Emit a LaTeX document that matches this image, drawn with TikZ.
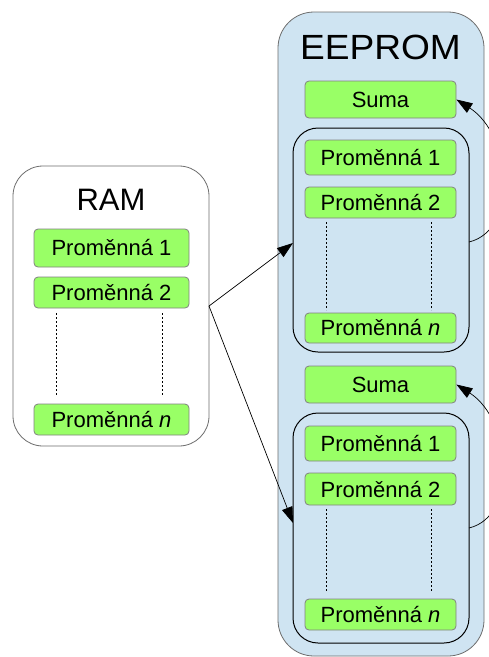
\documentclass[tikz,border=0pt]{standalone}
\usepackage{fontspec}
\setmainfont{Liberation Sans}
\usetikzlibrary{arrows.meta}
\definecolor{cellgreen}{RGB}{153,255,102}
\definecolor{celledge}{RGB}{130,130,130}
\definecolor{memblue}{RGB}{207,228,242}
\definecolor{memedge}{RGB}{110,110,110}
\tikzset{
  cell/.style={draw=celledge, fill=cellgreen, rounded corners=4pt, line width=0.8pt,
    minimum width=#1, inner sep=0pt, font=\fontsize{22}{24}\selectfont},
  cell/.default=155pt,
  memtitle/.style={font=\fontsize{#1}{#1}\selectfont, inner sep=0pt},
  gap/.style={dash pattern=on 2pt off 2pt, line width=0.7pt},
  link/.style={line width=0.7pt, -{Triangle[length=16pt,width=11pt]}}
}
\begin{document}
\begin{tikzpicture}[x=1pt, y=-1pt]
\clip (0,0) rectangle (489,657);
\fill[white] (0,0) rectangle (489,657);

% RAM block
\draw[memedge, line width=0.8pt, fill=white, rounded corners=30pt] (13,166) rectangle (209,446);
\coordinate (ram) at (209,306);
\node[memtitle=31] (ramtitle) at (111,200) {RAM};
\node[cell, minimum height=38pt] (rv1) at (111.5,248) {Proměnná 1};
\node[cell, minimum height=31pt] (rv2) at (111.5,292.5) {Proměnná 2};
\node[cell, minimum height=31pt] (rvn) at (111.5,419.5) {Proměnná \textit{n}};
\draw[gap] (56,313) -- (56,395);
\draw[gap] (162,313) -- (162,395);

% EEPROM block
\draw[memedge, line width=0.8pt, fill=memblue, rounded corners=36pt] (278,12) rectangle (484,656);
\node[memtitle=35, xscale=1.06] (eetitle) at (380.5,47) {EEPROM};

% first copy
\node[cell=151pt, minimum height=37pt] (s1) at (380.5,99.5) {Suma};
\draw[black, line width=1pt, rounded corners=25pt] (293,128) rectangle (469,352);
\coordinate (g1w) at (293,243);
\coordinate (g1e) at (469,242);
\node[cell=151pt, minimum height=35pt] (a1) at (380.5,157.5) {Proměnná 1};
\node[cell=151pt, minimum height=31pt] (a2) at (380.5,202.5) {Proměnná 2};
\node[cell=151pt, minimum height=30pt] (an) at (380.5,328) {Proměnná \textit{n}};
\draw[gap] (326,222) -- (326,310);
\draw[gap] (431,222) -- (431,310);

% second copy
\node[cell=151pt, minimum height=37pt] (s2) at (380.5,384.5) {Suma};
\draw[black, line width=1pt, rounded corners=25pt] (293,413) rectangle (469,643);
\coordinate (g2w) at (293,523);
\coordinate (g2e) at (469,528);
\node[cell=151pt, minimum height=35pt] (b1) at (380.5,443.5) {Proměnná 1};
\node[cell=151pt, minimum height=32pt] (b2) at (380.5,489) {Proměnná 2};
\node[cell=151pt, minimum height=31pt] (bn) at (380.5,614.5) {Proměnná \textit{n}};
\draw[gap] (326,509) -- (326,591);
\draw[gap] (431,509) -- (431,591);

% connectors
\draw[link] (ram) -- (g1w);
\draw[link] (ram) -- (g2w);
\draw[link] (g1e) .. controls +(50,-12) and +(55,35) .. (s1.east);
\draw[link] (g2e) .. controls +(50,-12) and +(55,35) .. (s2.east);
\end{tikzpicture}
\end{document}
